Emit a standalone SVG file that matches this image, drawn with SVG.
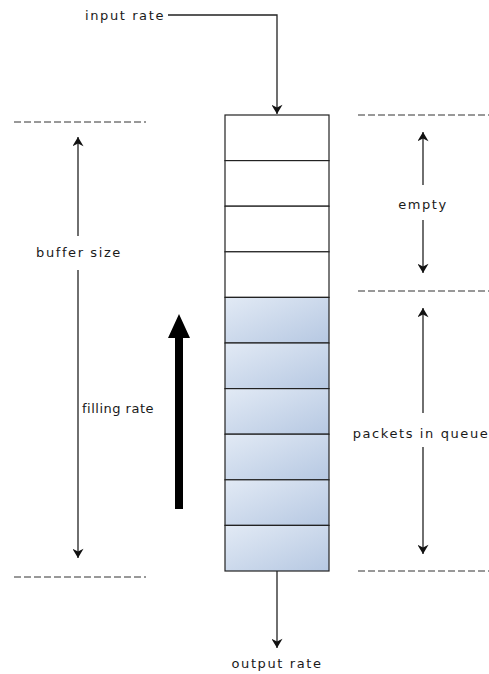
<svg xmlns="http://www.w3.org/2000/svg" width="489" height="674" viewBox="0 0 489 674">
<style>
text{font-family:"DejaVu Sans",Verdana,sans-serif;font-size:13px;letter-spacing:1.6px;fill:#1a1a1a}
.ln{stroke:#222;stroke-width:1.3;fill:none}
.dash{stroke:#333;stroke-width:1;stroke-dasharray:7,3;fill:none}
.cell{stroke:#222;stroke-width:1.2}
.empty{fill:#fff}
.full{fill:url(#g)}
</style>
<defs>
<linearGradient id="g" x1="0" y1="0" x2="1" y2="1">
<stop offset="0" stop-color="#e2eaf5"/>
<stop offset="1" stop-color="#b6c8e2"/>
</linearGradient>
<marker id="ah" viewBox="0 0 10 12" refX="10" refY="6" markerWidth="12" markerHeight="11" markerUnits="userSpaceOnUse" orient="auto">
<path d="M0,0 L10,6 L0,12 L3,6 Z" fill="#111"/>
</marker>
</defs>
<g id="buffer">
<rect class="cell empty" x="225" y="115" width="104" height="45.6"/>
<rect class="cell empty" x="225" y="160.6" width="104" height="45.6"/>
<rect class="cell empty" x="225" y="206.2" width="104" height="45.6"/>
<rect class="cell empty" x="225" y="251.8" width="104" height="45.6"/>
<rect class="cell full" x="225" y="297.4" width="104" height="45.6"/>
<rect class="cell full" x="225" y="343" width="104" height="45.6"/>
<rect class="cell full" x="225" y="388.6" width="104" height="45.6"/>
<rect class="cell full" x="225" y="434.2" width="104" height="45.6"/>
<rect class="cell full" x="225" y="479.8" width="104" height="45.6"/>
<rect class="cell full" x="225" y="525.4" width="104" height="45.6"/>
</g>
<g id="guides">
<line class="dash" x1="14" y1="122" x2="146" y2="122"/>
<line class="dash" x1="14" y1="577" x2="146" y2="577"/>
<line class="dash" x1="358" y1="115" x2="489" y2="115"/>
<line class="dash" x1="358" y1="291" x2="489" y2="291"/>
<line class="dash" x1="358" y1="571" x2="489" y2="571"/>
</g>
<g id="connectors">
<path class="ln" d="M168,15 H277 V114" marker-end="url(#ah)"/>
<path class="ln" d="M277,571 V648" marker-end="url(#ah)"/>
<path class="ln" d="M78,236 V137" marker-end="url(#ah)"/>
<path class="ln" d="M78,270 V558" marker-end="url(#ah)"/>
<path class="ln" d="M423,185 V132" marker-end="url(#ah)"/>
<path class="ln" d="M423,220 V273" marker-end="url(#ah)"/>
<path class="ln" d="M423,413 V308" marker-end="url(#ah)"/>
<path class="ln" d="M423,447 V554" marker-end="url(#ah)"/>
<path d="M175,509 V338 H168 L179,314 L190,338 H183 V509 Z" fill="#000"/>
</g>
<g id="labels">
<text x="85" y="20">input rate</text>
<text x="277" y="668" text-anchor="middle">output rate</text>
<text x="79" y="257" text-anchor="middle">buffer size</text>
<text x="423" y="209" text-anchor="middle">empty</text>
<text x="421" y="438" text-anchor="middle">packets in queue</text>
<text x="118" y="413" text-anchor="middle" style="letter-spacing:0.5px">filling rate</text>
</g>
</svg>
